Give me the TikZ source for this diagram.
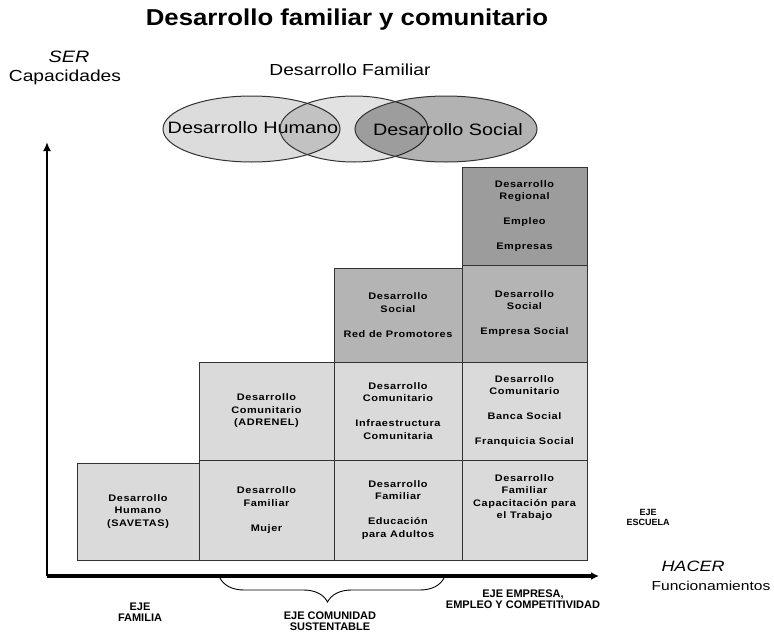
\documentclass[tikz,border=0pt]{standalone}
\usepackage{fontspec}
\setmainfont[FakeStretch=1.2]{Liberation Sans}
\newfontfamily\titlefont[FakeStretch=1.12]{Liberation Sans}
\newfontfamily\cellfont[FakeStretch=1.15,LetterSpace=6.0]{Liberation Sans}
\newfontfamily\ejefont{Liberation Sans}
\usetikzlibrary{arrows.meta,decorations.pathreplacing}

\definecolor{celllight}{HTML}{DADADA}
\definecolor{cellmid}{HTML}{B4B4B4}
\definecolor{celldark}{HTML}{9C9C9C}
\definecolor{ovalleft}{HTML}{DCDCDC}
\definecolor{ovalmid}{HTML}{E2E2E2}
\definecolor{ovalright}{HTML}{B2B2B2}

\begin{document}
\begin{tikzpicture}[x=1pt,y=-1pt,
  cell/.style={draw=black!80, line width=1pt, inner sep=0pt, align=center,
    font=\cellfont\bfseries\fontsize{9.5}{12.5}\selectfont},
  oval/.style={draw=black!80, line width=1pt},
  eje/.style={align=center, font=\ejefont\bfseries\fontsize{11}{11.5}\selectfont}]
\useasboundingbox[fill=white] (0,0) rectangle (774,632);

% titulo y ejes
\node[font=\titlefont\bfseries\fontsize{23}{26}\selectfont] (titulo) at (347,20) {Desarrollo familiar y comunitario};
\node[font=\itshape\fontsize{16.5}{19}\selectfont] (ser) at (69,57) {SER};
\node[font=\fontsize{16}{19}\selectfont] (capacidades) at (65,77) {Capacidades};
\node[font=\fontsize{16}{19}\selectfont] (familiar) at (350,70) {Desarrollo Familiar};

\fill[ovalleft] (251.5,129) ellipse (88.5 and 33);
\draw[oval] (251.5,129) ellipse (88.5 and 33);
\node[font=\fontsize{16.5}{19}\selectfont] (humano) at (253,128) {Desarrollo Humano};
\fill[ovalmid, blend mode=multiply] (354,129) ellipse (74 and 33);
\draw[oval] (354,129) ellipse (74 and 33);
\fill[ovalright, blend mode=multiply] (446,129) ellipse (91 and 33);
\draw[oval] (446,129) ellipse (91 and 33);
\node[font=\fontsize{16.5}{19}\selectfont] (social) at (448,130) {Desarrollo Social};

% escalera de desarrollo
\node[cell, fill=celllight, minimum width=122, minimum height=97] (fam1) at (138,511.5)
  {Desarrollo\\Humano\\(SAVETAS)};
\node[cell, fill=celllight, minimum width=135, minimum height=100] (fam2) at (266.5,510)
  {Desarrollo\\Familiar\\[12.5pt]Mujer};
\node[cell, fill=celllight, minimum width=135, minimum height=98] (com2) at (266.5,411)
  {Desarrollo\\Comunitario\\(ADRENEL)};
\node[cell, fill=celllight, minimum width=128, minimum height=100] (fam3) at (398,510)
  {Desarrollo\\Familiar\\[12.5pt]Educación\\para Adultos};
\node[cell, fill=celllight, minimum width=128, minimum height=98] (com3) at (398,411)
  {Desarrollo\\Comunitario\\[12.5pt]Infraestructura\\Comunitaria};
\node[cell, fill=cellmid, minimum width=128, minimum height=94] (soc3) at (398,315)
  {Desarrollo\\Social\\[12.5pt]Red de Promotores};
\node[cell, fill=celllight, minimum width=125, minimum height=100] (fam4) at (524.5,510)
  {Desarrollo\\Familiar\\Capacitación para\\el Trabajo\\[14pt]\mbox{}};
\node[cell, fill=celllight, minimum width=125, minimum height=98] (com4) at (524.5,411)
  {Desarrollo\\Comunitario\\[12.5pt]Banca Social\\[12.5pt]Franquicia Social};
\node[cell, fill=cellmid, minimum width=125, minimum height=97] (soc4) at (524.5,313.5)
  {Desarrollo\\Social\\[12.5pt]Empresa Social};
\node[cell, fill=celldark, minimum width=125, minimum height=98] (reg4) at (524.5,216)
  {Desarrollo\\Regional\\[12.5pt]Empleo\\[12.5pt]Empresas};

% ejes
\coordinate (origen) at (47,576);
\coordinate (ytope) at (47,142);
\coordinate (xfin) at (599,576);
\draw[line width=1.8pt, -{Latex[length=9pt,width=8pt]}] (origen) -- (ytope);
\draw[line width=3.2pt, -{Latex[length=8pt,width=8pt]}] (origen) -- (xfin);

\node[font=\itshape\fontsize{15}{18}\selectfont] (hacer) at (693,566) {HACER};
\node[font=\fontsize{13}{16}\selectfont] (funciona) at (711,586) {Funcionamientos};

% llave y rotulos
\coordinate (llaveizq) at (220,578);
\coordinate (llaveder) at (444,578);
\draw[line width=0.9pt, decorate, decoration={brace, mirror, amplitude=24pt, aspect=0.48}] (llaveizq) -- (llaveder);

\node[eje] (familia) at (140,612) {EJE\\FAMILIA};
\node[eje] (comunidad) at (330,621) {EJE COMUNIDAD\\SUSTENTABLE};
\node[eje] (empresa) at (523,599) {EJE EMPRESA,\\EMPLEO Y COMPETITIVIDAD};
\node[eje, font=\ejefont\bfseries\fontsize{9}{10}\selectfont] (escuela) at (648,517) {EJE\\ESCUELA};
\end{tikzpicture}
\end{document}
